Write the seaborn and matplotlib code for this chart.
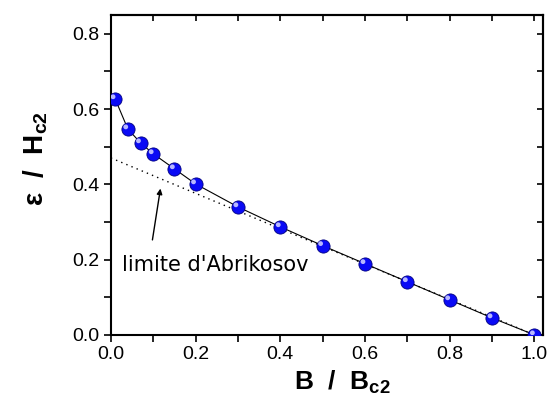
import numpy as np
import pandas as pd
import matplotlib
matplotlib.use("Agg")
import matplotlib.pyplot as plt
import matplotlib.transforms as mtransforms
from matplotlib.ticker import MultipleLocator
import seaborn as sns

# données : énergie réduite vs champ réduit
b_ratio = [0.01, 0.04, 0.07, 0.10, 0.15, 0.20, 0.30, 0.40, 0.50, 0.60, 0.70, 0.80, 0.90, 1.00]
energy = [0.627, 0.547, 0.510, 0.481, 0.441, 0.401, 0.340, 0.287, 0.237, 0.189, 0.141, 0.093, 0.045, 0.0]

# limite d'Abrikosov (droite)
abri_b = [0.0, 1.0]
abri_e = [0.47, 0.0]

df = pd.DataFrame({"B": b_ratio, "eps": energy})
df_abri = pd.DataFrame({"B": abri_b, "eps": abri_e})

sns.set_style("ticks")
plt.rcParams["font.family"] = ["Liberation Sans", "DejaVu Sans"]
plt.rcParams["mathtext.fontset"] = "custom"
plt.rcParams["mathtext.bf"] = "Liberation Sans:bold"
plt.rcParams["mathtext.rm"] = "Liberation Sans:bold"
for k in ["text.color", "axes.labelcolor", "xtick.color", "ytick.color", "axes.edgecolor"]:
    plt.rcParams[k] = "black"

fig = plt.figure(figsize=(5.49, 4.03), dpi=100)
ax = fig.add_axes([0.202, 0.169, 0.787, 0.794])

sns.lineplot(data=df_abri, x="B", y="eps", ax=ax, color="black", lw=1.0,
             linestyle=(0, (1, 3)), zorder=2)
sns.lineplot(data=df, x="B", y="eps", ax=ax, color="black", lw=0.8, zorder=3)

# sphères bleues
sns.scatterplot(data=df, x="B", y="eps", ax=ax, s=90, color="#0a0af5",
                edgecolor="#000080", linewidth=0.6, zorder=4)
hl = mtransforms.offset_copy(ax.transData, fig=fig, x=-1.5, y=1.5, units="points")
ax.scatter(df["B"], df["eps"], s=12, color="#b8b8ff", edgecolor="none",
           transform=hl, zorder=5)

ax.annotate("", xy=(0.118, 0.396), xytext=(0.097, 0.245),
            arrowprops=dict(arrowstyle="-|>", color="black", lw=1.0,
                            mutation_scale=8))
ax.text(0.026, 0.17, "limite d'Abrikosov", fontsize=15, family="DejaVu Sans")

ax.set_xlim(0, 1.02)
ax.set_ylim(0, 0.85)
ax.xaxis.set_minor_locator(MultipleLocator(0.1))
ax.yaxis.set_minor_locator(MultipleLocator(0.1))
ax.set_xticks([0, 0.2, 0.4, 0.6, 0.8, 1.0])
ax.set_xticklabels(["0.0", "0.2", "0.4", "0.6", "0.8", "1.0"])
ax.set_yticks([0, 0.2, 0.4, 0.6, 0.8])
ax.set_yticklabels(["0.0", "0.2", "0.4", "0.6", "0.8"])

ax.tick_params(which="both", direction="out", width=1.2, labelsize=14,
               top=False, right=False)
ax.tick_params(which="major", length=5, pad=3)
ax.tick_params(which="minor", length=5)
# graduations intérieures haut / droite
ax_top = ax.secondary_xaxis("top")
ax_top.xaxis.set_major_locator(MultipleLocator(0.1))
ax_top.tick_params(direction="in", length=4, width=1.2, labeltop=False)
ax_right = ax.secondary_yaxis("right")
ax_right.yaxis.set_major_locator(MultipleLocator(0.1))
ax_right.tick_params(direction="in", length=4, width=1.2, labelright=False)

for sp in ax.spines.values():
    sp.set_linewidth(1.5)
for a in (ax_top, ax_right):
    for sp in a.spines.values():
        sp.set_linewidth(1.5)

ax.set_xlabel(r"B  /  B$_{\rm c2}$", fontsize=19, fontweight="bold")
ax.set_ylabel(r"ε  /  H$_{\rm c2}$", fontsize=20, fontweight="bold")
ax.xaxis.set_label_coords(0.535, -0.105)
ax.yaxis.set_label_coords(-0.14, 0.55)

plt.savefig("out.png", dpi=100)
